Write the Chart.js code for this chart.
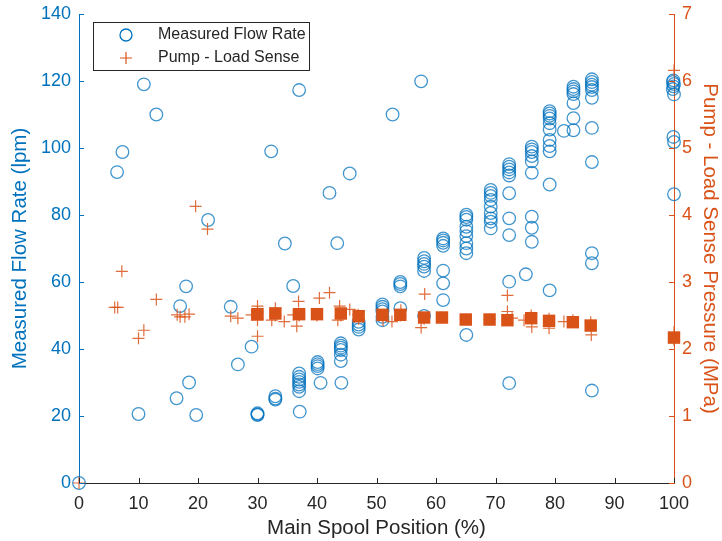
<!DOCTYPE html>
<html>
<head>
<meta charset="utf-8">
<script src="https://cdn.jsdelivr.net/npm/chart.js@4/dist/chart.umd.min.js"></script>
<style>
html, body { margin: 0; padding: 0; background: #fff; }
</style>
</head>
<body>
<canvas id="chart" width="722" height="541"></canvas>
<script>
// measured flow rate (lpm) vs main spool position (%)
const flowX = [
    0, 6.4, 7.3, 10, 10.9, 13, 16.4, 17, 18, 18.5, 19.7, 21.7, 25.5, 26.7, 29,
    30, 30, 30, 32.3, 33, 33, 33, 34.6, 36,
    37, 37, 37, 37, 37, 37, 37, 37.1, 37,
    40.1, 40.1, 40.1, 40.1, 40.6, 42.1, 43.4,
    44, 44, 44, 44, 44, 44, 44.1, 45.5,
    47, 47, 47, 47,
    51, 51, 51, 51, 51, 51, 52.7,
    54, 54, 54, 54, 57.5,
    58, 58, 58, 58, 58, 58,
    61.2, 61.2, 61.2, 61.2, 61.2, 61.2, 61.2,
    65.1, 65.1, 65.1, 65.1, 65.1, 65.1, 65.1, 65.1, 65.1, 65.1,
    69.2, 69.2, 69.2, 69.2, 69.2, 69.2, 69.2, 69.2, 69.2,
    72.3, 72.3, 72.3, 72.3, 72.3, 72.3, 72.3, 72.3, 72.3, 72.3,
    75.1,
    76.1, 76.1, 76.1, 76.1, 76.1, 76.1, 76.1, 76.1, 76.1,
    79.1, 79.1, 79.1, 79.1, 79.1, 79.1, 79.1, 79.1, 79.1, 79.1, 79.1,
    81.5,
    83.1, 83.1, 83.1, 83.1, 83.1, 83.1, 83.1,
    86.2, 86.2, 86.2, 86.2, 86.2, 86.2, 86.2, 86.2, 86.2, 86.2, 86.2,
    99.9, 99.8, 100, 99.9, 99.8, 100, 99.9, 100, 100
];
const flowY = [
    0, 92.8, 98.8, 20.6, 119, 110, 25.3, 52.8, 58.7, 30, 20.3, 78.5, 52.6, 35.4, 40.7,
    20.8, 20.3, 20.5, 99, 25.9, 25.2, 24.9, 71.5, 58.8,
    32.7, 31.7, 30.9, 30.2, 29.4, 28.7, 27.4, 21.3, 117.3,
    36.1, 35.5, 34.9, 34.2, 29.9, 86.6, 71.6,
    41.7, 41, 40.4, 39.7, 38.3, 36.4, 29.9, 92.4,
    48.1, 47.3, 46.6, 45.8,
    53.3, 52.6, 51.9, 51.2, 49.6, 48.6, 110,
    60, 59.4, 58.7, 52.2, 119.9,
    67.2, 66.2, 65.4, 64.6, 63.3, 49.9,
    73, 72.4, 71.7, 70.8, 63.4, 59.6, 54.6,
    80.1, 79.4, 78.6, 76.5, 75.2, 73.7, 71.6, 70, 68.6, 44.2,
    87.5, 86.6, 85.7, 84.5, 82.5, 80.6, 79, 78, 76,
    95.2, 94.4, 93.6, 92.7, 91.8, 86.5, 79, 74, 60.1, 29.8,
    62.3,
    100.4, 99.6, 98.8, 97.6, 96, 92.6, 79.5, 76.2, 72,
    111, 110.3, 109.6, 108.8, 107.4, 105.5, 102.4, 100.6, 99, 89.1, 57.5,
    105.1,
    118.3, 117.6, 116.9, 116.1, 113.4, 108.9, 105.3,
    120.5, 119.7, 118.9, 118.2, 117.3, 115, 106, 95.8, 68.6, 65.6, 27.6,
    120.2, 119.7, 119.1, 118.4, 117.6, 116, 103.3, 101.8, 86.2
];

// pump - load sense pressure (MPa)
const presX = [
    0, 6, 6.5, 7.2, 10, 10.9, 13, 16.5, 17, 17.8, 18.5, 19.6, 21.6, 25.5, 26.7,
    29, 30, 30, 30, 30, 32.4, 33, 33, 34.5, 36, 36.9, 36.6, 37,
    40.4, 40, 42.1, 43.8, 43.5, 44, 45.5, 46.9, 47, 51.1, 51, 52.6, 54.1, 54,
    57.5, 58.1, 58, 61, 65, 69, 72, 72, 72.8, 74.8, 76.1, 76, 79, 79,
    81.5, 83, 86.1, 86, 100, 100, 100
];
const presY = [
    0, 2.62, 2.62, 3.16, 2.16, 2.28, 2.74, 2.51, 2.48, 2.48, 2.52, 4.13, 3.79, 2.49, 2.46,
    2.51, 2.64, 2.43, 2.19, 2.55, 2.43, 2.61, 2.5, 2.41, 2.51, 2.71, 2.34, 2.5,
    2.76, 2.5, 2.84, 2.64, 2.43, 2.5, 2.59, 2.51, 2.45, 2.43, 2.5, 2.41, 2.58, 2.5,
    2.32, 2.82, 2.45, 2.47, 2.44, 2.44, 2.8, 2.56, 2.46, 2.43, 2.33, 2.5, 2.31, 2.45,
    2.41, 2.43, 2.21, 2.4, 2.13, 2.25, 6.16
];

// mean pressure at each spool position (MPa)
const avgX = [30, 33, 37, 40, 44, 47, 51, 54, 58, 61, 65, 69, 72, 76, 79, 83, 86, 100];
const avgY = [2.52, 2.53, 2.52, 2.52, 2.53, 2.49, 2.51, 2.51, 2.47, 2.47, 2.44, 2.44, 2.43, 2.46, 2.42, 2.40, 2.35, 2.17];

const xTicks = [0, 10, 20, 30, 40, 50, 60, 70, 80, 90, 100];

const BLUE = '#0072BD';
const ORANGE = '#D95319';
const DARK = '#262626';
const FONT = "'Liberation Sans', Arial, Helvetica, sans-serif";

Chart.defaults.font.family = FONT;

const toPoints = (xs, ys) => xs.map((x, i) => ({ x: x, y: ys[i] }));

// MATLAB style ticks pointing into the plot
const inwardTicks = {
    id: 'inwardTicks',
    afterDraw(chart) {
        const ctx = chart.ctx;
        const a = chart.chartArea;
        const len = 5;
        ctx.save();
        ctx.lineWidth = 1;
        const sx = chart.scales.x;
        ctx.strokeStyle = DARK;
        sx.ticks.forEach(t => {
            const px = Math.round(sx.getPixelForValue(t.value)) + 0.5;
            ctx.beginPath();
            ctx.moveTo(px, a.bottom);
            ctx.lineTo(px, a.bottom - len);
            ctx.stroke();
        });
        const sy = chart.scales.y;
        ctx.strokeStyle = BLUE;
        sy.ticks.forEach(t => {
            const py = Math.round(sy.getPixelForValue(t.value)) + 0.5;
            ctx.beginPath();
            ctx.moveTo(a.left, py);
            ctx.lineTo(a.left + len, py);
            ctx.stroke();
        });
        const sy2 = chart.scales.y2;
        ctx.strokeStyle = ORANGE;
        sy2.ticks.forEach(t => {
            const py = Math.round(sy2.getPixelForValue(t.value)) + 0.5;
            ctx.beginPath();
            ctx.moveTo(a.right, py);
            ctx.lineTo(a.right - len, py);
            ctx.stroke();
        });
        ctx.restore();
    }
};

// legend box inside the plot, top left
const boxLegend = {
    id: 'boxLegend',
    afterDraw(chart) {
        const ctx = chart.ctx;
        const bx = 93.5, by = 22.5, bw = 216, bh = 48;
        ctx.save();
        ctx.fillStyle = '#fff';
        ctx.fillRect(bx, by, bw, bh);
        ctx.strokeStyle = DARK;
        ctx.lineWidth = 1;
        ctx.strokeRect(bx, by, bw, bh);

        ctx.strokeStyle = BLUE;
        ctx.lineWidth = 1.3;
        ctx.beginPath();
        ctx.arc(126, 35, 6, 0, Math.PI * 2);
        ctx.stroke();

        ctx.strokeStyle = ORANGE;
        ctx.lineWidth = 1.2;
        ctx.beginPath();
        ctx.moveTo(120, 58); ctx.lineTo(132, 58);
        ctx.moveTo(126, 52); ctx.lineTo(126, 64);
        ctx.stroke();

        ctx.fillStyle = DARK;
        ctx.font = '16px ' + FONT;
        ctx.textBaseline = 'middle';
        ctx.fillText('Measured Flow Rate', 158, 35);
        ctx.fillText('Pump - Load Sense', 158, 58);
        ctx.restore();
    }
};

const fitY = w => s => { s.width = w; s.paddingTop = 0; s.paddingBottom = 0; };

new Chart(document.getElementById('chart').getContext('2d'), {
    type: 'scatter',
    data: {
        datasets: [{
            label: 'Measured Flow Rate',
            data: toPoints(flowX, flowY),
            yAxisID: 'y',
            pointStyle: 'circle',
            pointRadius: 6.3,
            pointBorderWidth: 1.3,
            borderColor: 'rgba(0,114,189,0.75)',
            backgroundColor: 'rgba(0,0,0,0)',
            clip: false,
            order: 3
        }, {
            label: 'Pump - Load Sense',
            data: toPoints(presX, presY),
            yAxisID: 'y2',
            pointStyle: 'cross',
            pointRadius: 6,
            pointBorderWidth: 1.2,
            borderColor: 'rgba(217,83,25,0.85)',
            backgroundColor: 'rgba(217,83,25,0.85)',
            clip: false,
            order: 2
        }, {
            label: 'Mean',
            data: toPoints(avgX, avgY),
            yAxisID: 'y2',
            pointStyle: 'rect',
            pointRadius: 8.8,
            pointBorderWidth: 0,
            borderColor: ORANGE,
            backgroundColor: ORANGE,
            clip: false,
            order: 1
        }]
    },
    options: {
        responsive: false,
        animation: false,
        layout: { padding: { top: 14, left: 0, right: 0, bottom: 0 } },
        plugins: {
            legend: { display: false },
            tooltip: { enabled: false }
        },
        scales: {
            x: {
                type: 'linear',
                min: 0,
                max: 100,
                afterFit: s => { s.height = 58; s.paddingLeft = 0; s.paddingRight = 0; },
                afterBuildTicks: s => { s.ticks = xTicks.map(v => ({ value: v })); },
                ticks: { color: DARK, font: { size: 18 }, padding: 10 },
                grid: { drawOnChartArea: false, drawTicks: false },
                border: { color: DARK, width: 1 },
                title: {
                    display: true,
                    text: 'Main Spool Position (%)',
                    color: DARK,
                    font: { size: 20.5 },
                    padding: { top: 0, bottom: 0 }
                }
            },
            y: {
                position: 'left',
                min: 0,
                max: 140,
                afterFit: fitY(79),
                ticks: { stepSize: 20, color: BLUE, font: { size: 18 }, padding: 8 },
                grid: { drawOnChartArea: false, drawTicks: false },
                border: { color: BLUE, width: 1 },
                title: {
                    display: true,
                    text: 'Measured Flow Rate (lpm)',
                    color: BLUE,
                    font: { size: 20.5 },
                    padding: { top: 8, bottom: 0 }
                }
            },
            y2: {
                position: 'right',
                min: 0,
                max: 7,
                afterFit: fitY(48),
                ticks: { stepSize: 1, color: ORANGE, font: { size: 18 }, padding: 8 },
                grid: { drawOnChartArea: false, drawTicks: false },
                border: { color: ORANGE, width: 1 },
                title: {
                    display: true,
                    text: 'Pump - Load Sense Pressure (MPa)',
                    color: ORANGE,
                    font: { size: 20.5 },
                    padding: { top: 0, bottom: 0 }
                }
            }
        }
    },
    plugins: [inwardTicks, boxLegend]
});
</script>
</body>
</html>
